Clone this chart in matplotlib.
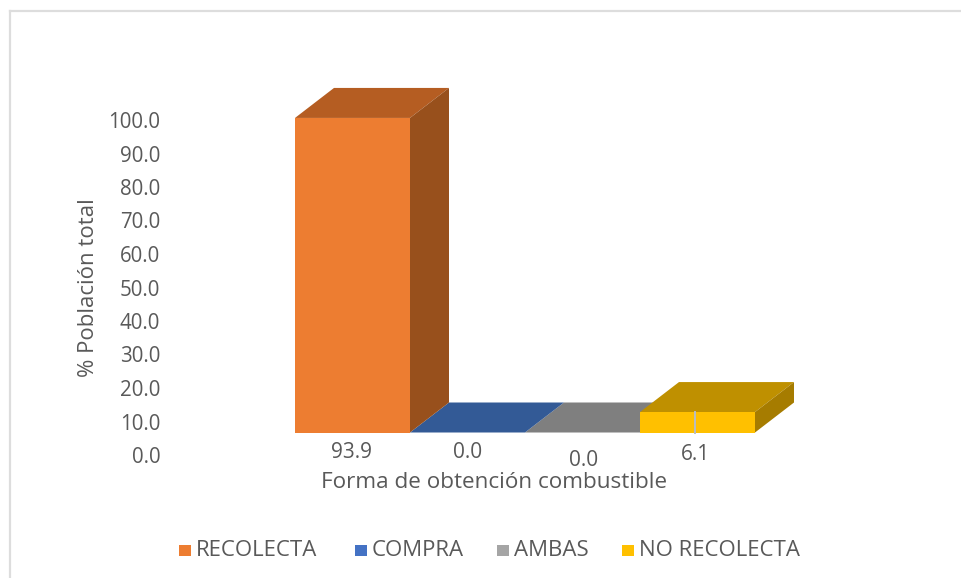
import matplotlib
matplotlib.use("Agg")
import matplotlib.pyplot as plt
from matplotlib.patches import Polygon, Rectangle
from matplotlib.lines import Line2D

categories = ["RECOLECTA", "COMPRA", "AMBAS", "NO RECOLECTA"]
values = [93.9, 0.0, 0.0, 6.1]
value_labels = ["93.9", "0.0", "0.0", "6.1"]
yticks = [0, 10, 20, 30, 40, 50, 60, 70, 80, 90, 100]
front = ["#ED7D31", "#4472C4", "#A5A5A5", "#FFC000"]
top = ["#B55D22", "#335A96", "#7F7F7F", "#BF9000"]
side = ["#98501C", "#2B4C80", "#6B6B6B", "#A67C00"]
TXT = "#595959"
plt.rcParams["font.family"] = "Open Sans"

W, H = 961, 578
fig = plt.figure(figsize=(W / 100, H / 100), dpi=100, facecolor="white")

# frame: only the top and left edges show in the crop
for xs, ys in [((9.5, 9.5), (10.5, 578)), ((9.5, 961), (10.5, 10.5))]:
    fig.add_artist(Line2D([x / W for x in xs], [1 - y / H for y in ys], color="#DDDDDD", lw=1.6,
                          transform=fig.transFigure, zorder=-1))

# axes: pixel box 165..800 horizontally, 455..70 vertically
L, R, B, T = 165, 800, 455, 70
ax = fig.add_axes([L / W, 1 - B / H, (R - L) / W, (B - T) / H])
ax.patch.set_alpha(0)
PX_X = 115.0   # pixels per category
PX_Y = 3.35    # pixels per percent
x0 = 295 + PX_X / 2
ax.set_xlim((L - x0) / PX_X, (R - x0) / PX_X)
ax.set_ylim(0, (B - T) / PX_Y)
for s in ax.spines.values():
    s.set_visible(False)

base = 22.5 / PX_Y
dx = 39 / PX_X
dy = 30 / PX_Y
hw = 0.5

# draw order: zero-height bars first, gray under blue, then the solid bars
for order, i in enumerate([2, 1, 0, 3]):
    v = values[i]
    l, r, b, t = i - hw, i + hw, base, base + v
    z = 2 + order
    ax.add_patch(Polygon([(l, t), (r, t), (r + dx, t + dy), (l + dx, t + dy)],
                         fc=top[i], ec="none", zorder=z))
    if v > 0:
        ax.add_patch(Polygon([(r, b), (r + dx, b + dy), (r + dx, t + dy), (r, t)],
                             fc=side[i], ec="none", zorder=z))
        ax.bar(i, v, width=1.0, bottom=base, color=front[i], zorder=z)

# leader line on the last bar
ax.plot([2.98, 2.98], [base - 0.2, base + values[3]], color="#B8BCC4", lw=1.4, zorder=7)

label_y = [452.5, 453, 460.5, 454]
label_x = [351, 468, 584, 696]
for i, lab in enumerate(value_labels):
    ax.text((label_x[i] - x0) / PX_X, (B - label_y[i]) / PX_Y, lab, ha="center", va="center",
            fontsize=15, color=TXT)

ax.set_xticks([])
ax.set_yticks(yticks)
ax.set_yticklabels([f"{t:.1f}" for t in yticks], fontsize=14.8, color=TXT)
ax.tick_params(axis="y", length=0, pad=3.5)

fig.text(89 / W, 1 - 288 / H, "% Población total", rotation=90, ha="center", va="center",
         fontsize=16, color=TXT)
fig.text(494.5 / W, 1 - 483 / H, "Forma de obtención combustible", ha="center", va="center",
         fontsize=16.2, color=TXT)

# legend
sw_x = [179, 355, 497, 622]
for x, c, name in zip(sw_x, front, categories):
    fig.add_artist(Rectangle((x / W, 1 - 556 / H), 11.5 / W, 11.5 / H, transform=fig.transFigure,
                             fc=c, ec="none"))
    fig.text((x + 17) / W, 1 - 551 / H, name, ha="left", va="center", fontsize=16, color=TXT)

fig.savefig("out.png", dpi=100)
